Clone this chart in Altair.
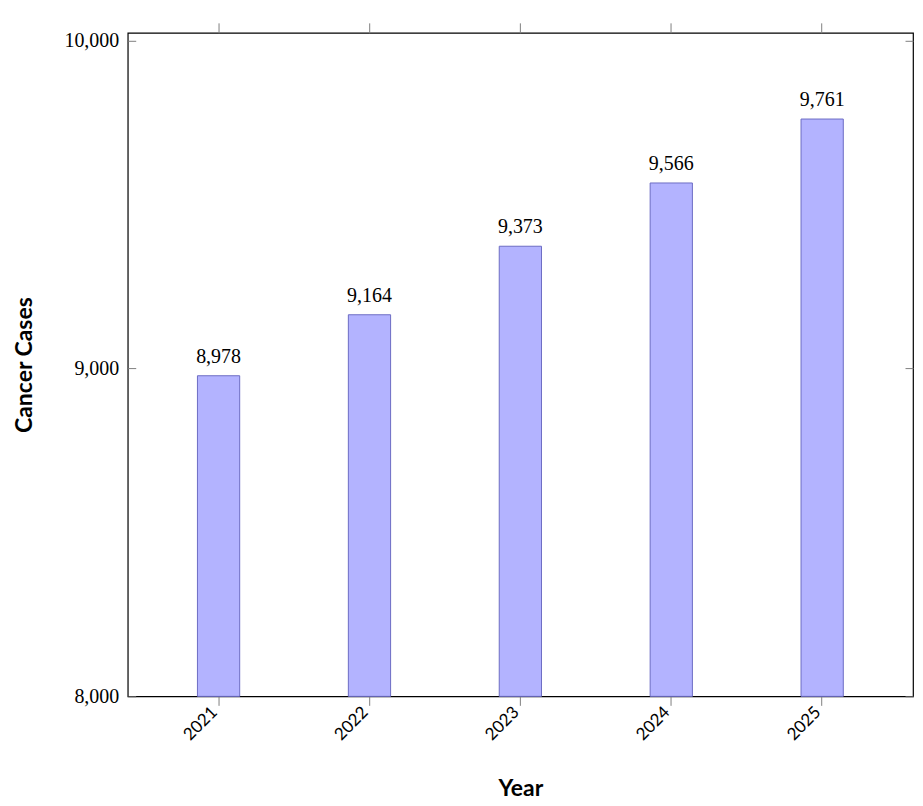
import altair as alt
import pandas as pd

years = ["2021", "2022", "2023", "2024", "2025"]
cases = [8978, 9164, 9373, 9566, 9761]
yticks = [8000, 9000, 10000]
ybase = 8000

df = pd.DataFrame({"Year": years, "Cases": cases})

W, H = 787, 665
FILL = "#b3b3ff"
STROKE = "#6c6cc4"
TICK = "#808080"

xscale = alt.Scale(paddingInner=0.72, paddingOuter=0.462)
yscale = alt.Scale(domain=[8000, 10024], nice=False, zero=False)

base = alt.Chart(df)

bars = base.mark_bar(fill=FILL, stroke=STROKE, strokeWidth=1).encode(
    x=alt.X("Year:O", scale=xscale, sort=years,
            axis=alt.Axis(orient="bottom", title="Year", domain=False,
                          tickColor=TICK, tickSize=9, tickWidth=1,
                          labelAngle=-45, labelAlign="right", labelBaseline="middle",
                          labelPadding=4, labelOffset=-4, labelFont="Lato",
                          labelFontSize=17, labelColor="#000000",
                          titleFont="Lato", titleFontWeight="bold", titleFontSize=23,
                          titleColor="#000000", titleX=W / 2, titleY=92,
                          titleBaseline="middle", titleAlign="center")),
    y=alt.Y("Cases:Q", scale=yscale,
            axis=alt.Axis(orient="left", title="Cancer Cases", values=yticks,
                          format=",.0f", domain=False, offset=-8, tickSize=8,
                          tickColor=TICK, tickWidth=1, labelPadding=9,
                          labelFont="Liberation Serif", labelFontSize=20,
                          labelColor="#000000", grid=False,
                          titleFont="Lato", titleFontWeight="bold", titleFontSize=23,
                          titleColor="#000000", titleAngle=-90, titleX=-111,
                          titleY=H / 2, titleBaseline="middle", titleAlign="center")),
    y2=alt.datum(ybase),
)

labels = base.mark_text(baseline="alphabetic", dy=-13, font="Liberation Serif",
                        fontSize=20, color="#000000").encode(
    x=alt.X("Year:O", scale=xscale, sort=years,
            axis=alt.Axis(orient="top", title=None, labels=False, domain=False,
                          tickColor=TICK, tickSize=10, tickWidth=1)),
    y=alt.Y("Cases:Q", scale=yscale,
            axis=alt.Axis(orient="right", title=None, labels=False, domain=False,
                          values=yticks, offset=-8, tickSize=8,
                          tickColor=TICK, tickWidth=1, grid=False)),
    text=alt.Text("Cases:Q", format=",.0f"),
)

chart = alt.layer(bars, labels).resolve_axis(x="independent", y="independent").properties(
    width=W, height=H,
    background="#ffffff",
    autosize=alt.AutoSizeParams(type="none"),
    padding={"left": 120, "top": 24, "right": 2, "bottom": 110},
).configure_view(stroke="#000000", strokeWidth=1.2)

chart.save("out.html", embed_options={"renderer": "svg", "actions": False})
